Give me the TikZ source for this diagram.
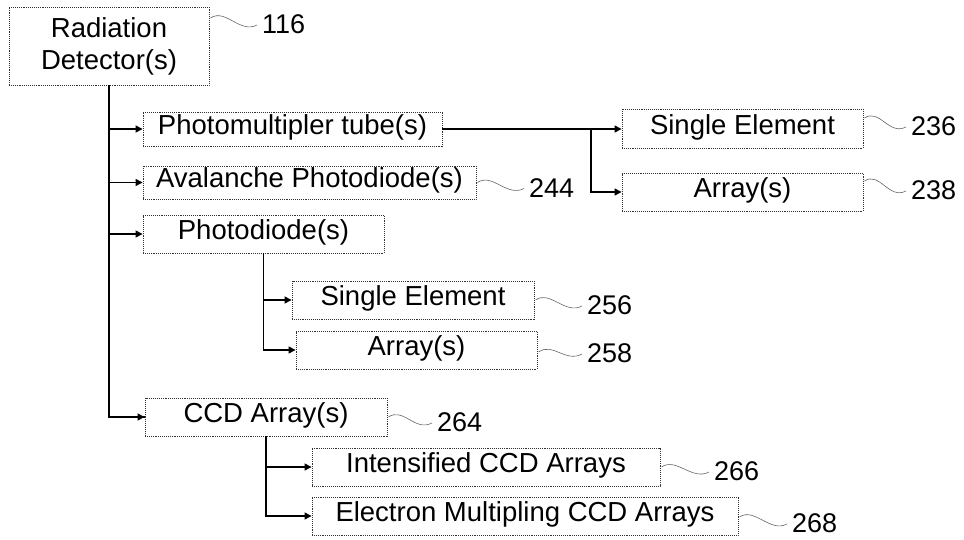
\documentclass[tikz,border=0pt]{standalone}
\usepackage{fontspec}
\setmainfont{Liberation Sans}
\usetikzlibrary{arrows.meta}
\usetikzlibrary{calc,positioning}

\begin{document}
\begin{tikzpicture}[x=1pt,y=-1pt]
  \tikzset{box/.style = {draw=black!80, densely dotted, line width=0.9pt, inner sep=0pt, text height=19pt, text depth=8pt, font=\fontsize{27.5}{32}\selectfont}}
  \tikzset{num/.style = {anchor=west, inner sep=0pt, text height=19.5pt, text depth=0pt, font=\fontsize{27}{30}\selectfont}}
  \tikzset{edge/.style = {line width=1.3pt, -{Triangle[length=7pt,width=7pt]}}}
  \tikzset{trunk/.style = {line width=1.3pt}}
  \tikzset{lead/.style = {draw=black!60, line width=0.6pt,
      to path={.. controls ($(\tikztostart)+(15,-10)$) and ($(\tikztotarget)+(-17,9)$) .. (\tikztotarget)}}}

  \useasboundingbox (0,0) rectangle (964,540);

	\node[box, minimum width=200pt, minimum height=78pt, align=center, text height=, text depth=] (det) at (109,46) {Radiation\\Detector(s)};

	\node[box, minimum width=299pt, minimum height=34pt] (pmt) at (292.5,129) {Photomultipler tube(s)};
	\node[box, minimum width=333pt, minimum height=33pt] (apd) at (309.5,182.5) {Avalanche Photodiode(s)};
	\node[box, minimum width=241pt, minimum height=38pt] (pd) at (263.5,234) {Photodiode(s)};
	\node[box, minimum width=242pt, minimum height=38pt] (ccd) at (266,417) {CCD Array(s)};

	\node[box, minimum width=241pt, minimum height=39pt] (pse) at (742.5,129) {Single Element};
	\node[box, minimum width=241pt, minimum height=38pt] (par) at (742.5,192) {Array(s)};

	\node[box, minimum width=242pt, minimum height=38pt] (dse) at (413,300) {Single Element};
	\node[box, minimum width=241pt, minimum height=38pt] (dar) at (416.5,350) {Array(s)};

	\node[box, minimum width=348pt, minimum height=38pt] (icd) at (486,467) {Intensified CCD Arrays};
	\node[box, minimum width=426pt, minimum height=38pt] (ecd) at (525,516) {Electron Multipling CCD Arrays};

	% reference numerals
	\node[num] (n116) at (262,24) {116};
	\node[num] (n244) at (529,187.5) {244};
	\node[num] (n236) at (911,126) {236};
	\node[num] (n238) at (911,190) {238};
	\node[num] (n256) at (587,305) {256};
	\node[num] (n258) at (587,353) {258};
	\node[num] (n264) at (437,422) {264};
	\node[num] (n266) at (714,471) {266};
	\node[num] (n268) at (792,523) {268};

	\coordinate (pbr) at (591,129);

	% tree
	\draw[trunk] (det.south) |- (ccd.west);
    \foreach \to in {pmt,apd,pd,ccd}
    \draw[edge] (det.south |- \to.west) -- (\to.west);

	\draw[edge] (pmt.east) -- (pse.west);
	\draw[edge] (pbr) |- (par.west);

    \foreach \to in {dse,dar}
    \draw[edge] (pd.south) |- (\to.west);
    \foreach \to in {icd,ecd}
    \draw[edge] (ccd.south) |- (\to.west);

	% leaders
    \foreach \from/\to/\dy in {det/n116/28,apd/n244/0,pse/n236/11,par/n238/11,dse/n256/0,dar/n258/-2,ccd/n264/0,icd/n266/0,ecd/n268/-1}
    \draw[lead] ([xshift=1pt,yshift=\dy pt]\from.east) to ([xshift=-5pt,yshift=-1pt]\to.west);

\end{tikzpicture}
\end{document}
